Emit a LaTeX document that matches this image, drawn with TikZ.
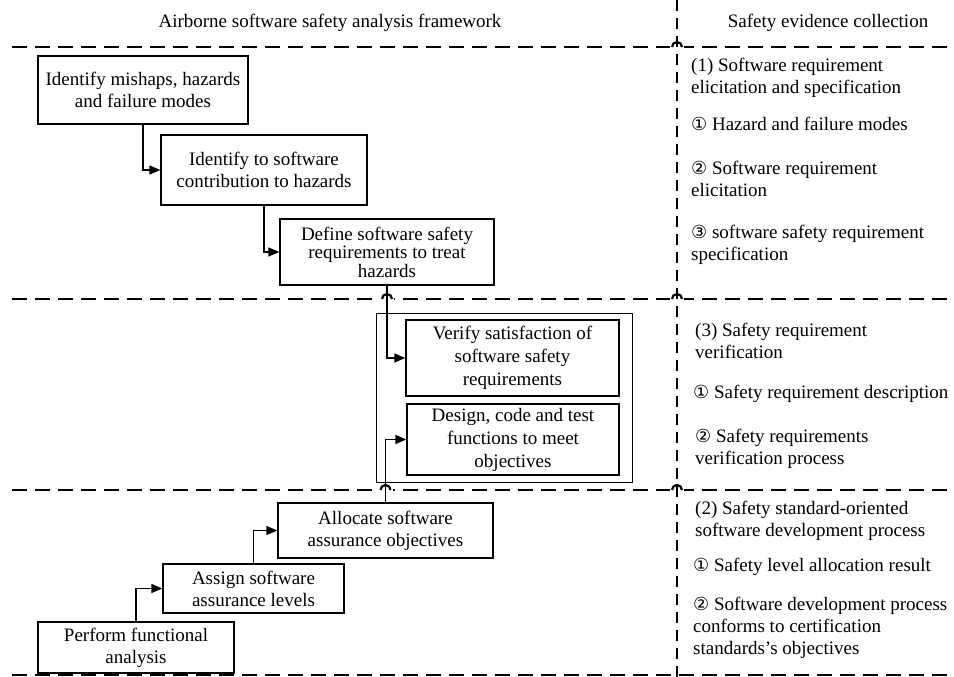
\documentclass[tikz,border=0pt]{standalone}
\usepackage{fontspec}
\setmainfont{Liberation Serif}
\newfontfamily\circfont{DejaVu Sans}
\usetikzlibrary{arrows.meta}
\newcommand\fsz{\fontsize{19}{22}\selectfont}
\newcommand\cn[1]{{\circfont\fontsize{18}{22}\selectfont #1}}
\tikzset{
  procbox/.style={draw, line width=1.3pt, inner sep=0pt, align=center, font=\fsz},
  plain/.style={inner sep=0pt, align=left, anchor=west, font=\fsz},
  sepline/.style={line width=2.6pt, dash pattern=on 15pt off 8pt},
  vsep/.style={line width=2.6pt, dash pattern=on 11pt off 7pt},
  conn/.style={line width=1.4pt, -{Triangle[length=11pt,width=9pt]}},
  hop/.style={line width=2.2pt},
}
\begin{document}
\begin{tikzpicture}[x=1pt,y=-1pt]
\useasboundingbox (0,0) rectangle (954,677);
% separators
\draw[sepline] (12,47) -- (954,47);
\draw[sepline] (12,299) -- (954,299);
\draw[sepline] (12,490) -- (954,490);
\draw[sepline] (12,675) -- (954,675);
\foreach \px/\py in {387/299,385.5/490,677/47,677/299,677/490}{
  \fill[white] (\px-7,\py-2) rectangle (\px+7,\py+2);
}
\draw[vsep] (677,0) -- (677,677);
\foreach \px/\py in {387/299,385.5/490,677/47,677/299,677/490}{
  \draw[hop] (\px-5,\py) arc (180:360:5);
}
% headings
\node[font=\fsz] (h1) at (330,23) {Airborne software safety analysis framework};
\node[font=\fsz] (h2) at (828,23) {Safety evidence collection};
% process boxes
\node[procbox, minimum width=210pt, minimum height=68pt] (b1) at (143,90) {Identify mishaps, hazards\\and failure modes};
\node[procbox, minimum width=206pt, minimum height=70pt] (b2) at (264,170) {Identify to software\\contribution to hazards};
\node[procbox, minimum width=214pt, minimum height=66pt, font=\fontsize{19}{18.5}\selectfont] (b3) at (387,252) {Define software safety\\requirements to treat\\hazards};
\node[draw, line width=1pt, minimum width=256pt, minimum height=169pt] (cont) at (504,397.5) {};
\node[procbox, minimum width=213pt, minimum height=76pt, font=\fontsize{19}{23}\selectfont] (ver) at (512.5,358) {Verify satisfaction of\\software safety\\requirements};
\node[procbox, minimum width=212pt, minimum height=71pt, font=\fontsize{19}{23}\selectfont] (des) at (513,439.5) {Design, code and test\\functions to meet\\objectives};
\node[procbox, minimum width=215pt, minimum height=55pt] (alloc) at (385.5,530.5) {Allocate software\\assurance objectives};
\node[procbox, minimum width=181pt, minimum height=49pt] (assign) at (253.5,588.5) {Assign software\\assurance levels};
\node[procbox, minimum width=196pt, minimum height=51pt] (perf) at (136,647.5) {Perform functional\\analysis};
% connectors
\draw[conn] (b1.south) |- (b2.west);
\draw[conn] (b2.south) |- (b3.west);
\draw[conn] (b3.south) |- (ver.west);
\draw[conn] (perf.north) |- (assign.west);
\draw[conn] (assign.north) |- (alloc.west);
\draw[conn] (alloc.north) |- (des.west);
% evidence column
\node[plain] (t1) at (691,78) {(1) Software requirement\\elicitation and specification};
\node[plain] (t2) at (691,124) {\cn{①} Hazard and failure modes};
\node[plain] (t3) at (691,178.5) {\cn{②} Software requirement\\elicitation};
\node[plain] (t4) at (691,245) {\cn{③} software safety requirement\\specification};
\node[plain] (t5) at (695,340.5) {(3) Safety requirement\\verification};
\node[plain] (t6) at (693,394) {\cn{①} Safety requirement description};
\node[plain] (t7) at (695,449) {\cn{②} Safety requirements\\verification process};
\node[plain] (t8) at (695,521) {(2) Safety standard-oriented\\software development process};
\node[plain] (t9) at (693,567) {\cn{①} Safety level allocation result};
\node[plain] (t10) at (693,627.5) {\cn{②} Software development process\\conforms to certification\\standards’s objectives};
\end{tikzpicture}
\end{document}
